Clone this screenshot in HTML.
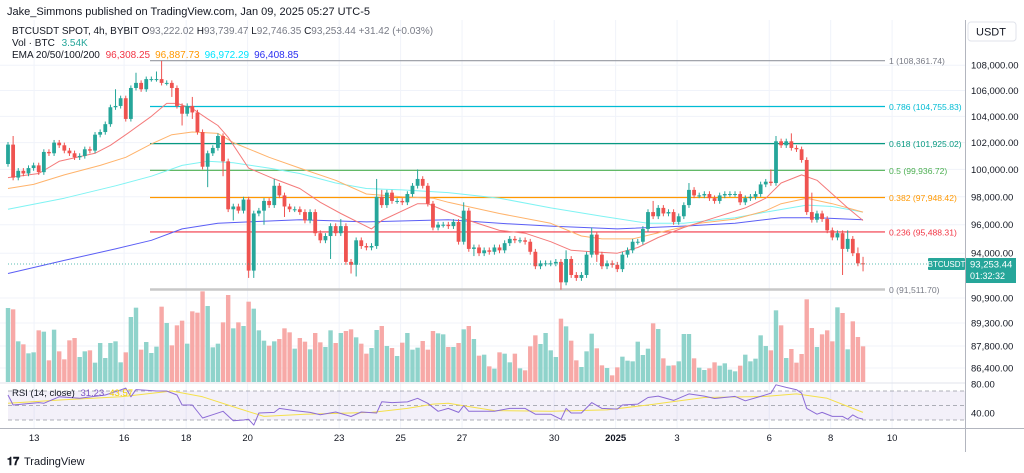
<!DOCTYPE html>
<html><head><meta charset="utf-8"><style>
html,body{margin:0;padding:0;background:#fff;}
svg{display:block;font-family:"Liberation Sans",Arial,sans-serif;}
</style></head><body>
<svg id="chart" width="1024" height="473" viewBox="0 0 1024 473" xmlns="http://www.w3.org/2000/svg">
<rect x="0" y="0" width="1024" height="473" fill="#ffffff"/>
<g id="grid"></g>
<rect x="8" y="391" width="957" height="29" fill="#7e57c2" fill-opacity="0.09"/>
<g id="fib"></g>
<g id="vol"></g>
<g id="ema"></g>
<g id="candles"></g>
<g id="rsi"></g>
<g id="axes"></g>
<text x="7" y="15" font-size="11" fill="#131722">Jake_Simmons published on TradingView.com, Jan 09, 2025 05:27 UTC-5</text>
<text x="12" y="34" font-size="10" fill="#131722">BTCUSDT SPOT, 4h, BYBIT <tspan fill="#131722">  O</tspan><tspan fill="#787b86">93,222.02</tspan><tspan>  H</tspan><tspan fill="#787b86">93,739.47</tspan><tspan>  L</tspan><tspan fill="#787b86">92,746.35</tspan><tspan>  C</tspan><tspan fill="#787b86">93,253.44  +31.42 (+0.03%)</tspan></text>
<text x="12" y="46" font-size="10" fill="#131722">Vol · BTC <tspan fill="#26a69a" dx="4">3.54K</tspan></text>
<text x="12" y="58" font-size="10" fill="#131722">EMA 20/50/100/200 <tspan fill="#f23645" dx="3">96,308.25</tspan><tspan fill="#ff9800" dx="5">96,887.73</tspan><tspan fill="#00e5ff" dx="5">96,972.29</tspan><tspan fill="#2a2ef0" dx="5">96,408.85</tspan></text>
<text x="12" y="396" font-size="9.5" fill="#131722">RSI (14, close) <tspan fill="#7e57c2" dx="3">31.23</tspan><tspan fill="#f5d000" dx="5">43.57</tspan></text>
<rect x="968" y="22" width="48" height="19" rx="3" fill="#fff" stroke="#e0e3eb"/>
<text x="976" y="35.5" font-size="11" fill="#131722">USDT</text>
<g>
<text x="7" y="465" font-size="11" font-weight="bold" fill="#131722">𝟏𝟕</text>
<text x="24" y="465" font-size="11" fill="#131722">TradingView</text>
</g>
</svg>
<script>
const closes=[101.85,99.4,99.9,99.7,100.1,100.3,99.8,101.3,101.2,102.0,
101.8,101.4,101.2,100.9,101.0,101.5,101.4,102.6,102.8,103.4,
104.7,104.8,105.4,103.8,106.2,106.6,106.1,106.9,106.9,106.9,
106.6,106.6,106.2,104.8,104.2,104.8,104.3,102.8,100.2,101.2,
101.6,102.5,100.6,97.1,97.3,97.0,97.8,92.8,96.8,97.0,
97.7,97.4,98.8,98.1,97.3,97.1,97.1,96.9,96.3,96.9,
95.4,94.9,95.2,95.9,95.4,95.9,93.4,93.2,94.9,94.5,
94.4,94.5,98.0,97.4,98.3,97.7,97.7,97.6,98.2,98.8,
99.3,98.8,97.5,95.8,96.0,96.0,95.9,96.2,94.8,97.0,
94.3,94.4,94.0,94.2,94.1,94.4,94.2,94.7,95.0,94.9,
94.9,94.8,94.1,93.1,93.3,93.3,93.3,93.4,92.0,93.6,
92.5,92.3,92.5,93.9,95.3,93.9,93.1,93.3,93.2,92.9,
93.9,94.2,94.8,94.8,95.7,96.9,96.6,97.2,96.8,96.9,
96.2,96.6,97.4,98.5,98.1,98.1,98.2,97.9,97.7,98.1,
98.2,98.2,98.2,97.6,97.9,98.0,98.2,98.9,99.1,99.0,
102.1,101.8,102.1,101.6,101.5,100.7,96.9,96.35,96.8,96.4,
95.6,95.1,95.4,94.3,95.0,94.0,93.3,93.25];
const firstOpen=100.4;
const upperWickIdx=[1,21,25,29,30,36,52,65,72,73,80,89,109,114,126,133,149,150,153,157,164,166,167];
const upperWickVal=[0.65,1.3,0.8,0.6,1.45,0.7,0.5,0.5,1.3,0.5,0.7,0.6,0.6,0.5,0.8,0.5,0.9,0.4,0.6,1.4,0.6,0.4,0.45];
const lowerWickIdx=[32,34,36,39,42,44,47,48,50,54,63,67,68,91,108,115,163,167];
const lowerWickVal=[0.7,0.9,0.5,1.5,1.1,0.8,0.5,0.5,1.0,0.75,1.6,0.6,0.8,0.5,0.5,0.5,1.8,0.5];
const defaultWick=0.2;
const volumes=[222,218,122,113,86,89,155,151,65,157,92,68,125,132,75,92,95,58,117,72,
117,122,59,89,195,223,97,120,87,106,226,177,110,170,184,115,212,208,272,228,
104,115,179,261,161,179,168,241,220,155,124,109,122,129,161,149,100,132,121,98,
147,119,105,155,117,147,153,158,134,115,85,102,156,168,108,102,78,118,147,97,
103,123,97,153,146,143,105,
105,117,158,168,129,79,82,47,40,89,85,59,85,41,35,107,140,114,147,95,
75,190,167,124,65,45,92,145,101,50,42,20,44,76,64,62,121,81,100,176,
159,71,49,50,62,144,144,71,43,36,41,59,49,56,37,32,49,82,62,70,
140,108,95,215,170,72,99,58,84,248,162,105,143,155,122,224,207,98,182,135,107];
const ema20Idx=[0,6,10,17,20,23,28,31,33,36,39,41,43,47,52,57,61,65,71,73,80,82,86,90,96,101,106,110,114,119,123,127,132,138,144,148,151,155,158,161,164,167];
const ema20Val=[99.4,99.7,100.6,101.2,101.8,102.6,104.0,105.0,105.0,104.6,103.8,103.3,102.4,100.1,99.3,98.6,97.6,96.8,95.7,96.3,97.5,97.5,96.9,96.3,95.6,95.4,94.8,94.2,94.1,94.0,94.4,95.1,95.8,96.5,97.2,97.9,99.0,99.6,99.2,98.2,97.2,96.3];
const ema50Idx=[0,5,11,18,23,28,32,36,41,44,51,57,64,70,77,83,86,96,106,112,116,122,129,135,142,148,151,156,161,167];
const ema50Val=[98.6,98.9,99.6,100.3,100.9,101.9,102.6,102.8,102.7,102.0,100.9,100.1,99.2,98.2,98.0,97.9,97.6,96.8,96.1,95.2,95.0,95.0,95.6,96.1,96.4,97.0,97.5,97.9,97.5,96.9];
const ema100Idx=[0,11,21,28,34,39,44,51,57,64,70,77,86,96,106,116,125,132,142,148,156,161,167];
const ema100Val=[97.1,97.9,98.8,99.5,100.3,100.6,100.5,100.1,99.7,99.0,98.6,98.5,98.3,97.9,97.2,96.6,96.1,96.1,96.5,96.9,97.4,97.3,96.9];
const ema200Idx=[0,11,21,28,34,41,47,57,70,86,96,106,119,132,142,151,158,167];
const ema200Val=[92.6,93.5,94.3,94.9,95.7,96.1,96.2,96.35,96.2,96.35,96.1,95.9,95.7,95.9,96.1,96.5,96.5,96.35];
const rsiIdx=[0,1,6,7,10,14,19,21,23,24,25,27,29,31,33,34,36,38,40,42,44,46,47,48,49,52,53,56,59,61,64,67,69,72,73,75,78,80,82,84,86,88,89,90,95,98,101,103,106,108,109,110,112,114,116,119,120,123,125,127,130,133,136,138,142,144,147,149,150,152,154,155,156,158,159,161,163,164,165,166,167];
const rsiVal=[64.5,50.7,54,53,62,60,64.5,69,74,62,72,71,70,70,64.5,50.7,50.7,32.8,37.3,42,29,30,31,23,39.6,40.5,46,43,40.5,37.3,41,34.8,41,39.6,55.2,54,55,60,53,42,46,40.5,49.7,42,42,46,46,38,38,31,46,39.6,39.6,54,46,45,50.7,52,61,63,57,66,63,59.6,62.5,56.5,62.5,67,78.5,75,71.8,67,46,38,40.5,35,35,31,37,33,31.2];
const rsiMaIdx=[0,11,22,32,38,45,50,58,71,78,83,86,89,95,106,117,125,136,148,154,160,165,167];
const rsiMaVal=[53,58,62,70,62,46,35,38,40.5,46,52,53,49.7,43,42,44,50.7,61,62.5,66,60,46,40.5];
const priceTicks=[108000,106000,104000,102000,100000,98000,96000,94000];
const volTickLabels=["90,900.00","89,300.00","87,800.00","86,400.00"];
const rsiTicks=[80,40];
const dateLabels=["13","16","18","20","23","25","27","30","2025","3","6","8","10"];
const dateDays=[0.85,3.78,5.8,7.8,10.78,12.78,14.78,17.78,19.78,21.78,24.78,26.78,28.78];
const fibLevels=[1,0.786,0.618,0.5,0.382,0.236,0];
const fibPrices=[108361.74,104755.83,101925.02,99936.72,97948.42,95488.31,91511.70];
const lastPrice=93253.44;

const NS="http://www.w3.org/2000/svg";
const lnTop=Math.log(108361.74);
function yP(p){return 60.7+1354*(lnTop-Math.log(p));}
function xI(i){return 8+i*5.12;}
function xDay(d){return 8+d*6*5.12;}
function yVolTop(v){return 382-v/3;}
function yRsi(v){return 405.5-(v-50)*0.725;}
function mk(tag,attrs,parent){const e=document.createElementNS(NS,tag);for(const k in attrs)e.setAttribute(k,attrs[k]);parent.appendChild(e);return e;}
const grid=document.getElementById('grid');
const axes=document.getElementById('axes');
priceTicks.forEach(p=>{
  const y=yP(p);
  const l=mk('line',{x1:0,x2:965,y1:y,y2:y,stroke:'#f0f3fa'},grid);
  
  
  const t=mk('text',{x:971,y:y+3.5,'font-size':9.5,fill:'#131722'},axes);
  t.textContent=p.toLocaleString('en-US')+'.00';
  
  
});
volTickLabels.forEach((s,k)=>{
  const y=[298,323,346,368][k];
  const l=mk('line',{x1:0,x2:965,y1:y,y2:y,stroke:'#f0f3fa'},grid);
  
  
  const t=mk('text',{x:971,y:y+3.5,'font-size':9.5,fill:'#131722'},axes);
  t.textContent=s;
  
  
});
dateLabels.forEach((s,k)=>{
  const x=xDay(dateDays[k]);
  const l=mk('line',{x1:x,x2:x,y1:20,y2:428,stroke:'#f0f3fa'},grid);
  
  
  const t=mk('text',{x:x,y:441,'font-size':9.5,fill:'#131722','text-anchor':'middle','font-weight':s==='2025'?'bold':'normal'},axes);
  t.textContent=s;
  
  
});
rsiTicks.forEach(v=>{
  const t=mk('text',{x:971,y:yRsi(v)+3.5,'font-size':9.5,fill:'#131722'},axes);
  t.textContent=v.toFixed(2);
  
  
});
[70,50,30].forEach(v=>{
  const l=mk('line',{x1:8,x2:965,y1:yRsi(v),y2:yRsi(v),stroke:'#9598a1','stroke-dasharray':'4 3','stroke-width':0.8},document.getElementById('rsi'));
  
  
});
let a;
a=mk('line',{x1:965.5,x2:965.5,y1:20,y2:452,stroke:'#b2b5be'},axes);

a=mk('line',{x1:0,x2:1024,y1:428.5,y2:428.5,stroke:'#b2b5be'},axes);

a=mk('line',{x1:0,x2:965,y1:383,y2:383,stroke:'#e0e3eb'},axes);


// fib
const fibColors=['#9598a1','#00bcd4','#089981','#4caf50','#ff9800','#f23645','#c8c8c8'];
const fibG=document.getElementById('fib');
fibLevels.forEach((lv,k)=>{
  const y=yP(fibPrices[k]);
  const l=mk('line',{x1:150,x2:885,y1:y,y2:y,stroke:fibColors[k],'stroke-width':k===6?2.5:1.2},fibG);
  
  
  const t=mk('text',{x:889,y:y+3.5,'font-size':8.6,fill:k===0||k===6?'#787b86':fibColors[k]},fibG);
  t.textContent=lv+' ('+fibPrices[k].toLocaleString('en-US',{minimumFractionDigits:2})+')';
  
  
});

// candles + volume
const cg=document.getElementById('candles'), vg=document.getElementById('vol');
for(let i=0;i<closes.length;i++){
  const o=i===0?firstOpen:closes[i-1], c=closes[i];
  const up=c>=o;
  const ui=upperWickIdx.indexOf(i), li=lowerWickIdx.indexOf(i);
  const hi=Math.max(o,c)+(ui>=0?upperWickVal[ui]:defaultWick);
  const lo=Math.min(o,c)-(li>=0?lowerWickVal[li]:defaultWick);
  const col=up?'#26a69a':'#ef5350';
  const x=xI(i);
  const w=mk('line',{x1:x,x2:x,y1:yP(hi*1000),y2:yP(lo*1000),stroke:col,'stroke-width':1},cg);
  
  
  const yt=yP(Math.max(o,c)*1000), yb=yP(Math.min(o,c)*1000);
  const b=mk('rect',{x:x-1.9,y:yt,width:3.8,height:Math.max(1,yb-yt),fill:col},cg);
  
  
  const vt=yVolTop(volumes[i]);
  const vb=mk('rect',{x:x-2.2,y:vt,width:4.4,height:382-vt,fill:up?'#8fd3cb':'#f7a9a7'},vg);
  
  
}

function line(idx,val,color,name,yf,scale,parent){
  const pts=idx.map((i,k)=>xI(i).toFixed(1)+','+yf(val[k]*scale).toFixed(1)).join(' ');
  const p=mk('polyline',{points:pts,fill:'none',stroke:color,'stroke-width':1,'stroke-linejoin':'round'},parent);
  
  
}
const eg=document.getElementById('ema');
line(ema200Idx,ema200Val,'#5b5ef5','ema-200-line',yP,1000,eg);
line(ema100Idx,ema100Val,'#7ff3f3','ema-100-line',yP,1000,eg);
line(ema50Idx,ema50Val,'#ffb36b','ema-50-line',yP,1000,eg);
line(ema20Idx,ema20Val,'#f47a7a','ema-20-line',yP,1000,eg);
const rg=document.getElementById('rsi');
line(rsiMaIdx,rsiMaVal,'#f5e04a','rsi-ma-line',yRsi,1,rg);
line(rsiIdx,rsiVal,'#8c6bd6','rsi-line',yRsi,1,rg);

// last price
const ly=yP(lastPrice);
a=mk('line',{x1:8,x2:965,y1:ly,y2:ly,stroke:'#26a69a','stroke-dasharray':'1 2','stroke-width':0.8},axes);

a=mk('rect',{x:928,y:ly-6,width:37,height:12,rx:1,fill:'#26a69a'},axes);

a=mk('text',{x:946.5,y:ly+3,'font-size':8,fill:'#fff','text-anchor':'middle'},axes);
a.textContent='BTCUSDT';
a=mk('rect',{x:966,y:ly-6,width:50,height:25,fill:'#26a69a'},axes);

a=mk('text',{x:970,y:ly+3.5,'font-size':9.5,fill:'#fff'},axes);
a.textContent=lastPrice.toLocaleString('en-US',{minimumFractionDigits:2});
a=mk('text',{x:970,y:ly+15,'font-size':9,fill:'#fff'},axes);
a.textContent='01:32:32';
</script>
</body></html>
